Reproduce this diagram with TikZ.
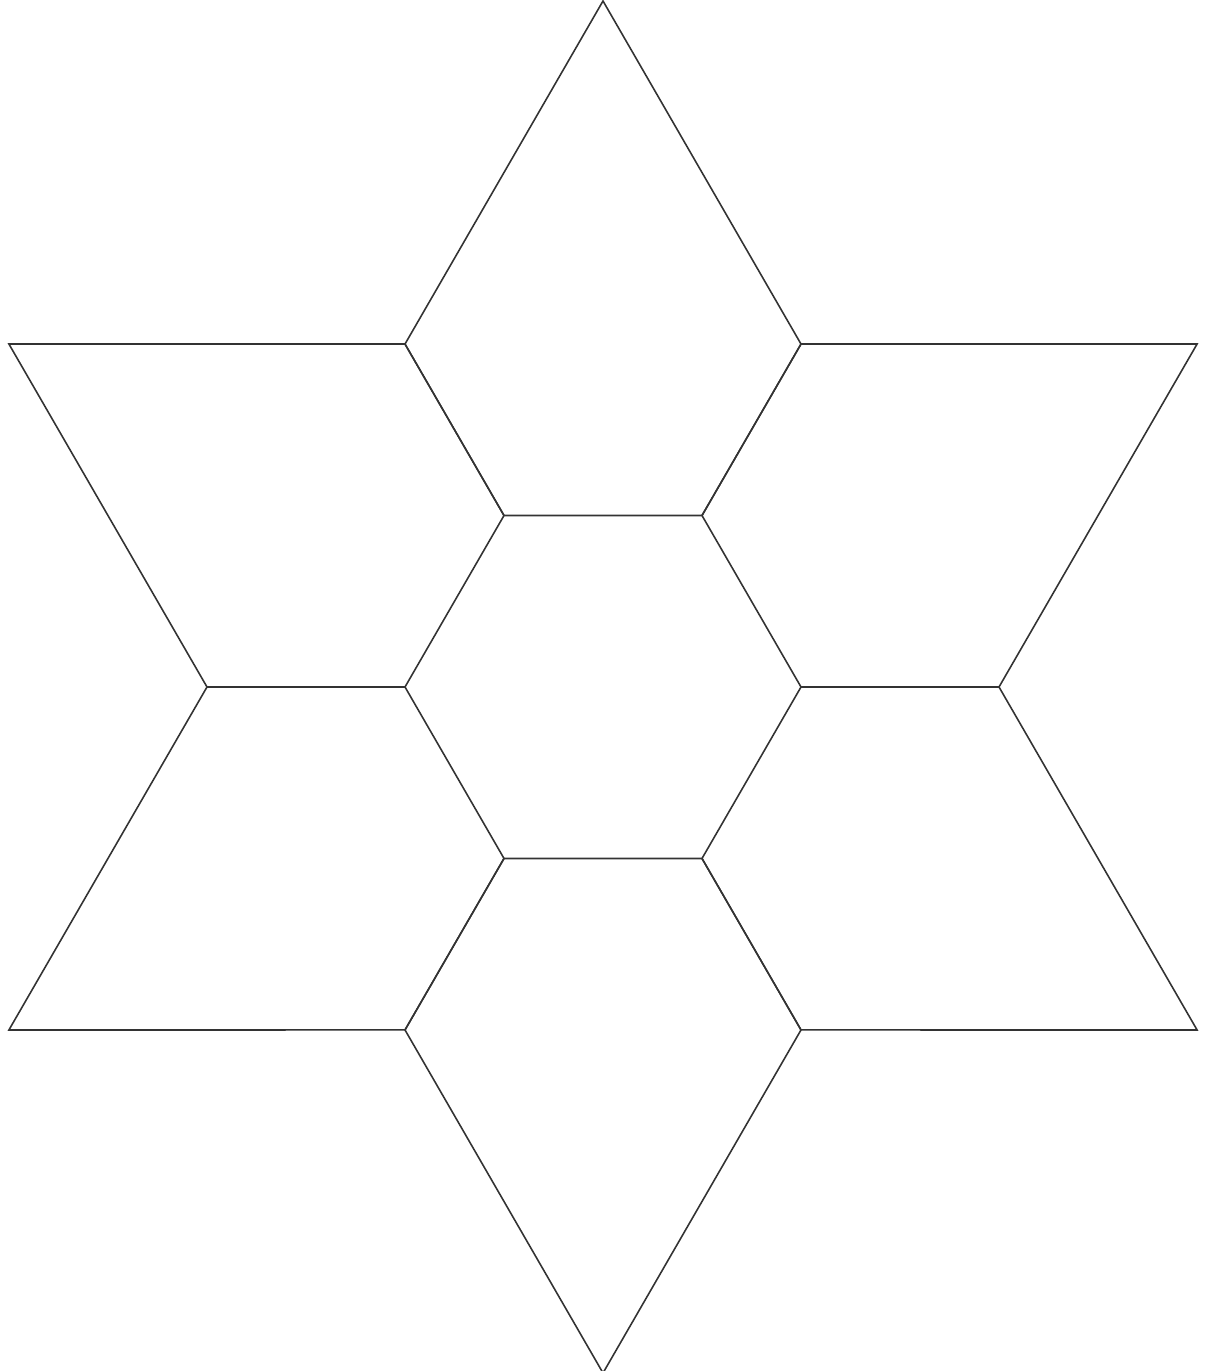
\documentclass[tikz,border=0pt]{standalone}
\begin{document}
\begin{tikzpicture}[line join=miter]
    \useasboundingbox (0,0) rectangle (12.07,13.71);
    % six cone pieces round the middle hexagon
    \begin{scope}[shift={(6.03,6.84)}]
        \foreach \t in {30,90,...,330} {
            \draw[line width=0.45pt, black!80]
                (\t:6.86) -- (\t-30:3.96) -- (\t-30:1.98) -- (\t+30:1.98) -- (\t+30:3.96) -- cycle;
        }
    \end{scope}
\end{tikzpicture}
\end{document}
